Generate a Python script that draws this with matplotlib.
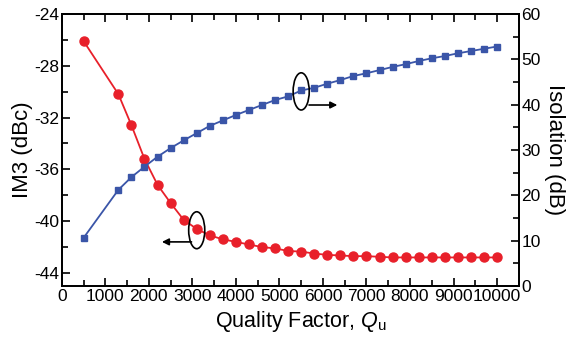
import matplotlib

matplotlib.use("Agg")
import matplotlib.pyplot as plt
from matplotlib import font_manager
from matplotlib.patches import Ellipse
from matplotlib.ticker import MultipleLocator

installed = {f.name for f in font_manager.fontManager.ttflist}
base = "Liberation Sans Narrow" if "Liberation Sans Narrow" in installed else "Liberation Sans"

plt.rcParams["font.family"] = [base, "DejaVu Sans"]
plt.rcParams["axes.unicode_minus"] = False
plt.rcParams["mathtext.fontset"] = "custom"
plt.rcParams["mathtext.rm"] = base
plt.rcParams["mathtext.it"] = base + ":italic"

# quality factor sweep (shared by both curves)
q_factor = [500] + list(range(1300, 10001, 300))

im3_dbc = [
    -26.1, -30.2, -32.6, -35.2, -37.2, -38.6, -39.9, -40.6, -41.1, -41.4,
    -41.6, -41.8, -42.0, -42.1, -42.3, -42.35, -42.5, -42.6, -42.65, -42.7,
    -42.7, -42.75, -42.8, -42.8, -42.8, -42.8, -42.8, -42.8, -42.8, -42.8,
    -42.8,
]

isolation_db = [
    10.6, 21.2, 24.0, 26.3, 28.5, 30.4, 32.1, 33.7, 35.3, 36.5,
    37.7, 38.8, 39.9, 41.0, 41.8, 43.1, 43.7, 44.6, 45.4, 46.3,
    46.9, 47.6, 48.3, 48.9, 49.6, 50.2, 50.7, 51.3, 51.8, 52.3,
    52.8,
]

RED = "#e8202a"
BLUE = "#3a55a8"
FS = 12.5
XLABEL_FS = 15.5
YLABEL_FS = 16
YLABEL_FONT = ["Liberation Sans", "DejaVu Sans"]

fig = plt.figure(figsize=(5.67, 3.38), dpi=100)
ax = fig.add_axes([0.109, 0.154, 0.806, 0.805])
ax2 = ax.twinx()

ax.plot(q_factor, im3_dbc, color=RED, lw=1.3, marker="o", ms=6.5, zorder=3)
ax2.plot(q_factor, isolation_db, color=BLUE, lw=1.3, marker="s", ms=5, zorder=3)

ax.set_xlim(0, 10500)
ax.set_ylim(-45, -24)
ax2.set_ylim(0, 60)

ax.xaxis.set_major_locator(MultipleLocator(1000))
ax.xaxis.set_minor_locator(MultipleLocator(500))
ax.yaxis.set_major_locator(MultipleLocator(4))
ax.yaxis.set_minor_locator(MultipleLocator(2))
ax2.yaxis.set_major_locator(MultipleLocator(10))
ax2.yaxis.set_minor_locator(MultipleLocator(5))

ax.tick_params(which="both", direction="in", top=True, right=False,
               labelsize=FS, width=1.2, pad=2)
ax.tick_params(which="major", length=6)
ax.tick_params(which="minor", length=4)
ax2.tick_params(which="both", direction="in", labelsize=FS, width=1.2, pad=2)
ax2.tick_params(which="major", length=6)
ax2.tick_params(which="minor", length=4)

for a in (ax, ax2):
    for sp in a.spines.values():
        sp.set_linewidth(1.3)

ax.set_xlabel(r"Quality Factor, $Q_\mathrm{u}$", fontsize=XLABEL_FS, labelpad=0)
ax.xaxis.set_label_coords(0.523, -0.085)
ax.set_ylabel("IM3 (dBc)", fontsize=YLABEL_FS, family=YLABEL_FONT, labelpad=1)
ax2.set_ylabel("Isolation (dB)", fontsize=YLABEL_FS, family=YLABEL_FONT,
               rotation=270, labelpad=17)

# markers pointing each curve to its axis
ax.add_patch(Ellipse((3100, -40.7), 370, 2.85, fill=False, ec="black", lw=1.2, zorder=4))
ax.annotate("", xy=(2300, -41.6), xytext=(2980, -41.6),
            arrowprops=dict(arrowstyle="-|>", color="black", lw=1.2,
                            mutation_scale=10, shrinkA=0, shrinkB=0))
ax2.add_patch(Ellipse((5500, 42.9), 370, 8.2, fill=False, ec="black", lw=1.2, zorder=4))
ax2.annotate("", xy=(6330, 39.9), xytext=(5680, 39.9),
             arrowprops=dict(arrowstyle="-|>", color="black", lw=1.2,
                             mutation_scale=10, shrinkA=0, shrinkB=0))

fig.savefig("out.png", dpi=100)
